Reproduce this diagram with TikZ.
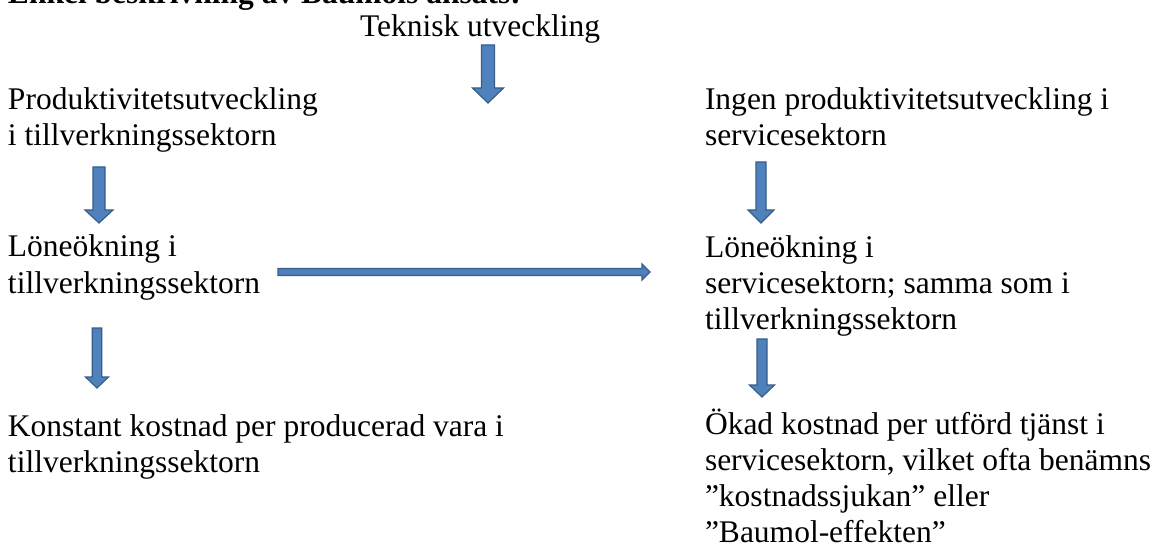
\documentclass[tikz,border=0pt]{standalone}
\usepackage{fontspec}
\setmainfont{Liberation Serif}
\usetikzlibrary{calc}
\definecolor{arrfill}{RGB}{79,129,189}
\definecolor{arrline}{RGB}{56,93,138}
\tikzset{
  txt/.style={anchor=base west, inner sep=0pt, outer sep=0pt, align=left, font=\fontsize{31.5}{36}\selectfont},
  blockarrow/.style={fill=arrfill, draw=arrline, line width=1.2pt, line join=miter}
}
% multi-line nodes: the base anchor is the baseline of the last line
\newcommand{\VArrow}[5]{\path[blockarrow] let \p1=(#1), \p2=(#2) in
  (\x1-#3,\y1) -- (\x1+#3,\y1) -- (\x1+#3,\y2+#5) -- (\x1+#4,\y2+#5) -- (\x2,\y2)
  -- (\x1-#4,\y2+#5) -- (\x1-#3,\y2+#5) -- cycle;}
\newcommand{\HArrow}[5]{\path[blockarrow] let \p1=(#1), \p2=(#2) in
  (\x1,\y1+#3) -- (\x2-#5,\y1+#3) -- (\x2-#5,\y1+#4) -- (\x2,\y2)
  -- (\x2-#5,\y1-#4) -- (\x2-#5,\y1-#3) -- (\x1,\y1-#3) -- cycle;}
\begin{document}
\begin{tikzpicture}[x=1pt,y=-1pt]
\clip (0,0) rectangle (1161,553);
\fill[white] (0,0) rectangle (1161,553);
% texts
\node[txt, font=\fontsize{31.5}{36}\selectfont\bfseries] (title) at (8,4) {Enkel beskrivning av Baumols ansats:};
\node[txt] (tek) at (360,37) {Teknisk utveckling};
\node[txt] (prod) at (8,146) {Produktivitetsutveckling\\i tillverkningssektorn};
\node[txt] (ingen) at (705,146) {Ingen produktivitetsutveckling i\\servicesektorn};
\node[txt] (lonL) at (8,293) {Löneökning i\\tillverkningssektorn};
\node[txt] (lonR) at (705,329) {Löneökning i\\servicesektorn; samma som i\\tillverkningssektorn};
\node[txt] (konst) at (8,472) {Konstant kostnad per producerad vara i\\tillverkningssektorn};
\node[txt] (okad) at (705,542) {Ökad kostnad per utförd tjänst i\\servicesektorn, vilket ofta benämns\\”kostnadssjukan” eller\\”Baumol-effekten”};
% arrow end points
\coordinate (a1s) at (488,45);  \coordinate (a1e) at (488,103);
\coordinate (a2s) at (99,167);  \coordinate (a2e) at (99,223);
\coordinate (a3s) at (761,162); \coordinate (a3e) at (761,223);
\coordinate (a4s) at (97,328);  \coordinate (a4e) at (97,388);
\coordinate (a5s) at (762,339); \coordinate (a5e) at (762,397);
\coordinate (hs) at (278,272);  \coordinate (he) at (650,272);
\VArrow{a1s}{a1e}{6.5pt}{15.5pt}{15pt}
\VArrow{a2s}{a2e}{6pt}{14pt}{13pt}
\VArrow{a3s}{a3e}{5pt}{13pt}{13pt}
\VArrow{a4s}{a4e}{4.75pt}{11.5pt}{11pt}
\VArrow{a5s}{a5e}{5pt}{12.5pt}{12pt}
\HArrow{hs}{he}{3.5pt}{8pt}{8pt}
\end{tikzpicture}
\end{document}
